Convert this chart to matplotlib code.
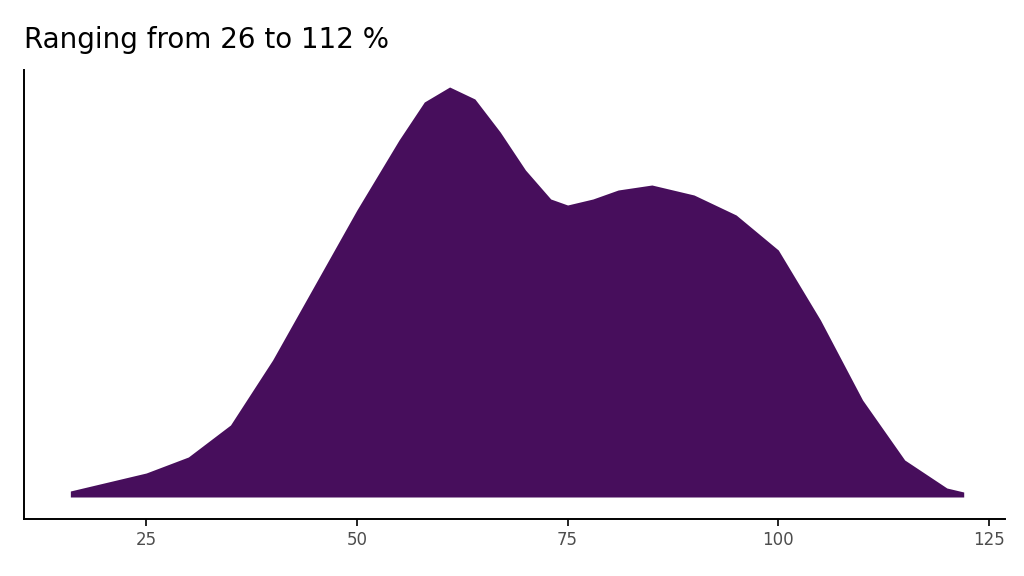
import matplotlib
matplotlib.use("Agg")
import matplotlib.pyplot as plt
import numpy as np

x_vals = [16, 20, 25, 30, 35, 40, 45, 50, 55, 58, 61, 64, 67, 70, 73, 75, 78, 81, 85, 90, 95, 100, 105, 110, 115, 120, 122]
density = [6, 14, 24, 40, 72, 137, 212, 287, 357, 395, 410, 398, 365, 327, 298, 292, 298, 307, 312, 302, 282, 247, 177, 97, 37, 9, 5]
title = "Ranging from 26 to 112 %"
xticks = [25, 50, 75, 100, 125]

fig = plt.figure(figsize=(10.24, 5.76), dpi=100)
ax = fig.add_axes([24/1024, 1-519/576, (1005-24)/1024, (519-70)/576])
ax.fill_between(x_vals, 0, density, color="#470E5C", lw=0)
ax.set_xlim(10.5, 126.9)
ax.set_ylim(-22, 427)
ax.set_yticks([])
ax.set_xticks(xticks)
ax.tick_params(axis="x", labelsize=12, colors="#4D4D4D", length=5, width=1.2)
ax.tick_params(axis="x", color="black")
for s in ["top", "right"]:
    ax.spines[s].set_visible(False)
for s in ["left", "bottom"]:
    ax.spines[s].set_linewidth(1.4)
fig.text(24/1024, 1-48/576, title, fontsize=20, ha="left", va="baseline")
fig.savefig("out.png", dpi=100)
